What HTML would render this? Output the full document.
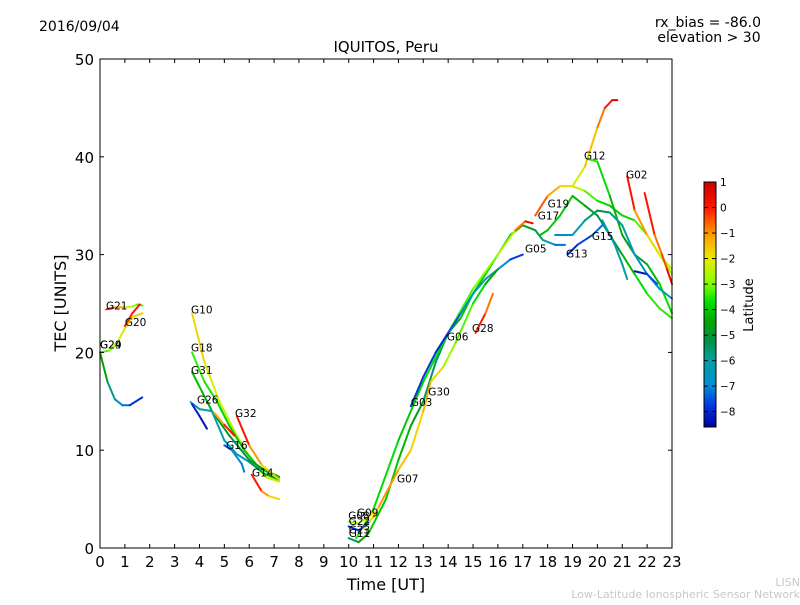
<!DOCTYPE html>
<html><head><meta charset="utf-8"><style>
body{margin:0;background:#fff;font-family:"Liberation Sans","DejaVu Sans",sans-serif}
svg text{font-family:"DejaVu Sans","Liberation Sans",sans-serif}
</style></head><body>
<svg id="c" width="800" height="600" viewBox="0 0 800 600" xmlns="http://www.w3.org/2000/svg">
<defs><linearGradient id="jet" x1="0" y1="0" x2="0" y2="1"></linearGradient></defs>
<rect width="800" height="600" fill="#fff"/>
<text x="39" y="31" font-size="14">2016/09/04</text>
<text x="761" y="27" font-size="14" text-anchor="end">rx_bias = -86.0</text>
<text x="709" y="42" font-size="14" text-anchor="middle">elevation &gt; 30</text>
<text x="386" y="52" font-size="15" text-anchor="middle">IQUITOS, Peru</text>
<g id="marks"></g>
<g id="axes"></g>
<rect x="100" y="59" width="572" height="489" fill="none" stroke="#000" stroke-width="1"/>
<text x="386" y="590" font-size="16" text-anchor="middle">Time [UT]</text>
<text transform="translate(66,303) rotate(-90)" font-size="16" text-anchor="middle">TEC [UNITS]</text>
<rect x="704" y="182" width="12" height="245" fill="url(#jet)" stroke="#000" stroke-width="1"/>
<g id="cbticks"></g>
<text transform="translate(753,305) rotate(-90)" font-size="13" text-anchor="middle">Latitude</text>
<text x="800" y="586" font-size="11" fill="#c8c8c8" text-anchor="end">LISN</text>
<text x="800" y="598" font-size="11" fill="#c8c8c8" text-anchor="end">Low-Latitude Ionospheric Sensor Network</text>
</svg>
<script>
const xTicks=[0,1,2,3,4,5,6,7,8,9,10,11,12,13,14,15,16,17,18,19,20,21,22,23];
const yTicks=[0,10,20,30,40,50];
const cbTicks=[1,0,-1,-2,-3,-4,-5,-6,-7,-8];
// tracks: [hour, TEC, latitude]
const trackA=[[0,20,-4],[0.3,17,-5],[0.6,15.2,-6.5],[0.9,14.6,-7],[1.2,14.6,-7.5],[1.7,15.4,-8.3]];
const trackB=[[0,20,-3.5],[0.4,20.2,-3],[0.7,21,-2.5],[1.0,22.5,-2],[1.3,23.6,-1.5],[1.7,24,-1.8]];
const trackG21=[[0.25,24.4,0.5],[0.6,24.6,-0.5],[1.0,24.6,-2],[1.3,24.7,-2.5],[1.5,24.9,-3.2],[1.7,24.8,-3.5]];
const trackG20=[[1.0,22.7,0.3],[1.3,24,-0.5],[1.6,24.9,0.5]];
const trackG10=[[3.7,24,-1.5],[4.2,19,-2],[4.8,15,-2.3],[5.5,11.5,-2.5],[6.2,8.5,-2.3],[6.7,7.2,-2.4],[7.2,6.8,-2.5]];
const trackG18=[[3.7,20,-3.3],[4.2,17,-3.5],[4.7,15,-3.7],[5.2,12.5,-4],[5.8,10,-4],[6.4,8.2,-4],[7.2,7.2,-3.8]];
const trackG31=[[3.7,18,-4],[4.1,16,-4.3],[4.5,14,-4.5],[5.2,11.5,-5.2],[6,9,-5],[6.6,8,-4.5],[7.2,7.3,-4]];
const trackG26=[[3.65,14.9,-7],[4.0,14.2,-6.5],[4.5,14,-6],[5.0,11,-6],[5.5,9.6,-6.5],[6.0,8.8,-6.2],[6.6,7.6,-5],[7.2,7,-4]];
const trackBlue1=[[3.7,14.7,-8],[4.0,13.5,-8.2],[4.3,12.2,-8.3]];
const trackG32=[[5.5,13.5,0.5],[6.0,10.5,-0.5],[6.5,8.5,-1.5],[7.2,7,-2]];
const trackRed1=[[4.6,13.8,-2],[5.0,12.6,-0.5],[5.4,11.5,0.5]];
const trackG14=[[6.1,7.5,0.5],[6.5,5.8,-0.5],[6.8,5.3,-1.5],[7.2,5,-2]];
const trackG16=[[5.0,10.5,-8],[5.3,10,-7],[5.7,8.6,-7],[5.8,7.8,-7.2]];
const trackG11=[[10,1.0,-6],[10.4,0.6,-5],[10.8,1.5,-4],[11.5,5,-4],[12,9,-4],[12.5,12.5,-4.5],[13,15,-5],[13.5,19,-6],[14,22,-5],[14.5,23.5,-4],[15,26,-4],[16,30,-4],[16.5,32,-4],[17,33,-4.5],[17.5,32.5,-5],[17.8,31.5,-6],[18.3,31,-6.5],[18.7,31,-8]];
const trackG06=[[10.3,1,-3.5],[11,4,-3.5],[12,11,-4],[13,17,-4],[14,22,-3.5],[15,26.5,-3],[16,30,-3],[16.7,32.5,-2],[17.1,33.4,0.5],[17.4,33.2,0.5]];
const trackG03=[[12.5,14.5,-8],[13,17.5,-7.5],[13.5,20,-8],[14,22,-8],[14.5,24,-7],[15,26,-6.5],[15.5,27.5,-6],[16,28.5,-6.5],[16.5,29.5,-7.5],[17,30,-8]];
const trackG07=[[10.6,2,-2.5],[11,3.2,-1],[12,8,-1],[12.5,10,-2],[13,14,-1.5],[13.3,17,-1],[13.8,18.5,-2.5],[14.3,21,-3],[15,25,-3.5],[15.5,27,-4],[16,28.5,-5]];
const trackG28=[[15.1,22,0.5],[15.5,24,-0.5],[15.8,26,-1]];
const trackG09=[[10,2.7,-3],[10.4,2.5,-2.5],[10.8,3.2,-2],[11.2,4,-2]];
const trackG22=[[10,2.2,-8],[10.4,1.8,-8],[10.8,2.6,-7]];
const trackG17=[[17.5,34,0],[18,36,-1],[18.5,37,-1.5],[19,37,-2],[19.5,36.5,-3],[20,35.5,-3.5],[20.5,35,-4],[21,34,-4],[21.5,33.5,-3.5],[22,32,-3],[22.5,30,-2.5],[23,28,-3]];
const trackG19=[[17.7,32,-4.5],[18,32.5,-4],[18.5,34,-4],[19,36,-4],[19.5,35,-4.5],[20,34,-5],[20.5,32,-5.5],[21,30,-4.5],[21.5,28,-4],[22,26,-3.5],[22.5,24.5,-3.5],[23,23.5,-3.5]];
const trackG12up=[[19,37,-2.5],[19.5,39,-2],[20,43,-1],[20.3,45,-0.5],[20.6,45.8,0.5],[20.8,45.8,0.8]];
const trackG12dn=[[19.6,39.8,-3.5],[20,39.5,-3.5],[20.5,36,-4],[21,32,-4.5],[21.5,30,-5],[22,29,-4.5],[22.5,27,-4],[23,24,-3.5]];
const trackG02=[[21.2,38,0.5],[21.5,34.5,-0.5],[22,32,-1.5],[22.5,30,-2],[23,28.5,-2.5]];
const trackRed2=[[21.9,36.3,0.5],[22.3,32,-0.5],[22.6,30,-1],[22.8,28.5,0.3],[23,27,0.5]];
const trackG15=[[18.3,32,-7],[19,32,-6.5],[19.5,33.5,-6],[20,34.5,-5],[20.5,34.3,-5.5],[21,33,-6],[21.5,30,-6.5],[22,28,-7],[22.5,26.5,-6.5],[23,25.5,-6]];
const trackG13=[[18.8,30,-8.3],[19.2,31,-7.8],[19.8,32,-7.5],[20.2,33,-7]];
const trackBlue2=[[21.5,28.3,-8.3],[22,28,-8],[22.4,27,-7]];
const trackTeal=[[20.2,33.5,-6.5],[20.7,31,-6],[21,29,-6],[21.2,27.5,-6]];
const tracks=[trackA,trackB,trackG21,trackG20,trackG10,trackG18,trackG31,trackG26,trackBlue1,trackG32,trackRed1,trackG14,trackG16,trackG11,trackG06,trackG03,trackG07,trackG28,trackG09,trackG22,trackG17,trackG19,trackG12up,trackG12dn,trackG02,trackRed2,trackG15,trackG13,trackBlue2,trackTeal];
const labelNames=["G21","G20","G24","G29","G10","G18","G31","G26","G32","G16","G14","G09","G08","G22","G23","G11","G07","G03","G30","G06","G28","G05","G17","G19","G13","G15","G12","G02"];
const labelT=[0.24,1.0,0,0,3.66,3.66,3.66,3.9,5.43,5.07,6.11,10.33,9.98,10.0,10.0,10.0,11.94,12.5,13.2,13.95,14.96,17.09,17.6,18.0,18.74,19.78,19.46,21.15];
const labelV=[24.4,22.7,20.4,20.4,24.0,20.1,17.8,14.8,13.4,10.1,7.3,3.2,2.9,2.35,1.5,1.1,6.7,14.5,15.6,21.2,22.1,30.2,33.6,34.8,29.7,31.5,39.7,37.8];

const NS="http://www.w3.org/2000/svg";
const X0=100,X1=672,Y0=548,Y1=59;
const xs=t=>X0+t*(X1-X0)/23;
const ys=v=>Y0-v*(Y0-Y1)/50;
const cbTop=182,cbBot=427,cbMax=1.0,cbMin=-8.6;
const cbY=l=>cbTop+(cbMax-l)*(cbBot-cbTop)/(cbMax-cbMin);
const cmap=[[1.0,[200,0,0]],[0.0,[255,20,0]],[-1,[255,150,0]],[-2,[235,235,0]],[-3,[130,255,0]],[-3.7,[0,225,0]],[-4.5,[0,165,0]],[-5.2,[0,145,70]],[-6,[0,160,160]],[-7,[0,140,215]],[-7.7,[0,60,225]],[-8.6,[0,0,160]]];
function jet(l){
 if(l>=cmap[0][0])return `rgb(${cmap[0][1]})`;
 for(let i=0;i<cmap.length-1;i++){const a=cmap[i],b=cmap[i+1];
  if(l<=a[0]&&l>=b[0]){const f=(a[0]-l)/(a[0]-b[0]);const c=a[1].map((v,k)=>Math.round(v+(b[1][k]-v)*f));return `rgb(${c})`;}}
 return `rgb(${cmap[cmap.length-1][1]})`;}
function mk(tag,attrs,parent){const e=document.createElementNS(NS,tag);for(const k in attrs)e.setAttribute(k,attrs[k]);parent.appendChild(e);return e;}
const grad=document.getElementById('jet');
cmap.forEach(s=>mk('stop',{offset:(cbMax-s[0])/(cbMax-cbMin),'stop-color':`rgb(${s[1]})`},grad));
const marks=document.getElementById('marks');
tracks.forEach((tr,i)=>{
 const g=mk('g',{},marks);
 
 
 for(let j=0;j<tr.length-1;j++){
  const a=tr[j],b=tr[j+1];
  const s=mk('line',{x1:xs(a[0]),y1:ys(a[1]),x2:xs(b[0]),y2:ys(b[1]),stroke:jet((a[2]+b[2])/2),'stroke-width':2,'stroke-linecap':'round'},g);
  
  
 }
});
labelNames.forEach((n,i)=>{
 const t=mk('text',{x:xs(labelT[i]),y:ys(labelV[i]),'font-size':10.5},marks);
 t.textContent=n;
 
 
});
const axes=document.getElementById('axes');
xTicks.forEach(t=>{
 const x=xs(t);
 const l1=mk('line',{x1:x,y1:Y0,x2:x,y2:Y0-4,stroke:'#000'},axes);
 
 
 mk('line',{x1:x,y1:Y1,x2:x,y2:Y1+4,stroke:'#000'},axes);
 const tx=mk('text',{x:x,y:Y0+19,'font-size':15,'text-anchor':'middle'},axes);
 tx.textContent=t;
 
 
});
yTicks.forEach(v=>{
 const y=ys(v);
 const l1=mk('line',{x1:X0,y1:y,x2:X0+4,y2:y,stroke:'#000'},axes);
 
 
 mk('line',{x1:X1,y1:y,x2:X1-4,y2:y,stroke:'#000'},axes);
 const tx=mk('text',{x:X0-6,y:y+6,'font-size':15,'text-anchor':'end'},axes);
 tx.textContent=v;
 
 
});
const cbt=document.getElementById('cbticks');
cbTicks.forEach(v=>{
 const y=cbY(v);
 mk('line',{x1:704,y1:y,x2:708,y2:y,stroke:'#000'},cbt);
 mk('line',{x1:716,y1:y,x2:712,y2:y,stroke:'#000'},cbt);
 const tx=mk('text',{x:720,y:y+4,'font-size':10.5},cbt);
 tx.textContent=v<0?'\u2212'+(-v):v;
 
 
});
</script>
</body></html>
